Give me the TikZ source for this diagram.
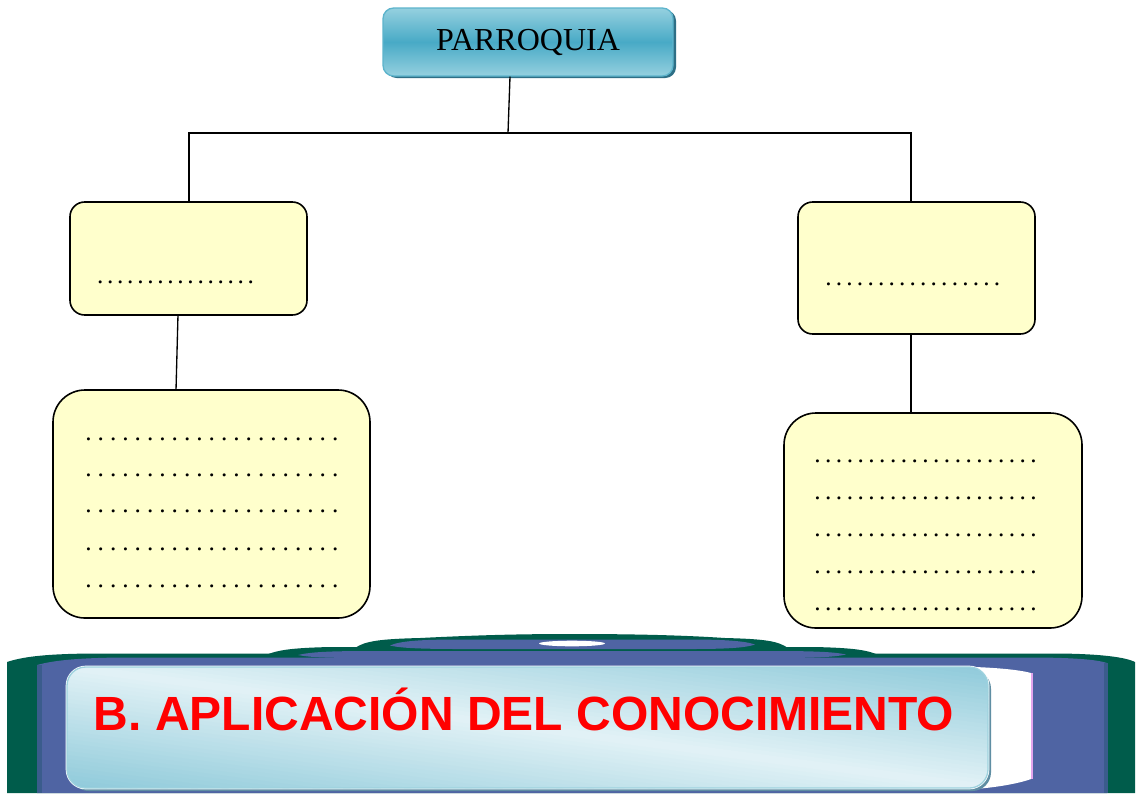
\documentclass[tikz,border=0pt]{standalone}
\usepackage{fontspec}
\setmainfont{Liberation Serif}
\setsansfont{Liberation Sans}
\definecolor{boxyellow}{HTML}{FFFFCC}
\definecolor{parlight}{HTML}{95D0DF}
\definecolor{parmid}{HTML}{48AAC6}
\definecolor{parborder}{HTML}{5DB4CC}
\definecolor{parshadow}{HTML}{2E6F86}
\definecolor{bgreen}{HTML}{005C4B}
\definecolor{bblue}{HTML}{4F64A3}
\definecolor{bslate}{HTML}{3A5C8C}
\definecolor{lbdark}{HTML}{8FCADA}
\definecolor{lblight}{HTML}{E2F2F6}
\definecolor{lbshadow}{HTML}{5F8EA3}
\definecolor{lbborder}{HTML}{9DD2DE}
\definecolor{pinkedge}{HTML}{E2A4EC}
\newcommand{\dotrow}[2]{\foreach \k in {1,...,#1}{\makebox[#2][c]{.}}}
\tikzset{
  ybox/.style={draw=black, line width=1.2pt, fill=boxyellow, rounded corners=#1, inner sep=0pt},
  dots/.style={anchor=west, inner sep=0pt, font=\fontsize{19}{21}\selectfont},
  link/.style={draw=black, line width=1pt},
}
\begin{document}
\begin{tikzpicture}[x=0.75pt,y=-0.75pt]
\useasboundingbox (0,0) rectangle (1141,793);
\fill[white] (0,0) rectangle (1141,793);

% top box
\fill[parshadow, rounded corners=8pt] (386,10) rectangle (676,78);
\node[draw=parborder, line width=1pt, rounded corners=8pt, top color=parlight, bottom color=parlight, middle color=parmid,
      minimum width=217.5pt, minimum height=51pt, inner sep=0pt, font=\fontsize{24}{26}\selectfont] (par) at (528,42) {PARROQUIA};

% yellow boxes
\node[ybox=11pt, minimum width=177.75pt, minimum height=84.75pt] (ls) at (188.5,258.5) {};
\node[ybox=11pt, minimum width=177.75pt, minimum height=99pt] (rs) at (916.5,268) {};
\node[ybox=24pt, minimum width=237.75pt, minimum height=171pt] (lb) at (211.5,504) {};
\node[ybox=24pt, minimum width=223.5pt, minimum height=161.25pt] (rb) at (933,520.5) {};

% connectors
\coordinate (hub) at (508,133);
\coordinate (lcorner) at (189,133);
\coordinate (rcorner) at (911,133);
\draw[link] ([xshift=-13.5pt]par.south) -- (hub);
\draw[link] (lcorner |- ls.north) -- (lcorner) -- (rcorner) -- (rcorner |- rs.north);
\draw[link] ([xshift=-7.9pt]ls.south) -- ([xshift=-26.6pt]lb.north);
\draw[link] (rcorner |- rs.south) -- (rcorner |- rb.north);

% dotted lines
\node[dots] (lsd) at (95,282.7) {\dotrow{16}{7.53pt}};
\node[dots] (rsd) at (823,284) {\dotrow{17}{7.9pt}};
\foreach \y [count=\i] in {439.3,475.7,511.7,549,586.7}
  \node[dots] (lbd\i) at (82.1,\y) {\dotrow{21}{9.25pt}};
\foreach \y [count=\i] in {461,498.3,535.3,572.3,609.3}
  \node[dots] (rbd\i) at (811.9,\y) {\dotrow{21}{8.1pt}};

% bottom banner: green outline
\fill[bgreen] (7,793) -- (7,662) .. controls (25,656) and (50,654) .. (90,653.5) -- (1060,653.5)
   .. controls (1100,654) and (1125,657) .. (1135,662) -- (1135,793) -- cycle;
\fill[bgreen] (262,657) .. controls (275,650) and (290,648) .. (330,647) -- (815,647)
   .. controls (855,648) and (870,650) .. (882,657) -- cycle;
\fill[bgreen] (355,648) .. controls (365,641) and (380,639) .. (420,638) .. controls (480,635) and (520,634) .. (572,634)
   .. controls (630,634) and (680,635) .. (725,638) .. controls (765,639) and (778,641) .. (788,648) -- cycle;
% blue fills
\fill[bblue] (37,793) -- (37,665) .. controls (55,660) and (80,658) .. (120,657.5) -- (1040,657.5)
   .. controls (1080,658) and (1098,660) .. (1107,663) -- (1107,793) -- cycle;
\fill[bblue] (298,655) .. controls (310,652) and (330,651) .. (370,651) -- (775,651)
   .. controls (815,651) and (835,652) .. (846,654.5) .. controls (835,657) and (815,658) .. (775,658)
   -- (370,658) .. controls (330,658) and (310,657.5) .. (298,655) -- cycle;
\fill[bblue] (390,645.5) .. controls (400,641) and (420,639.5) .. (460,639.5) -- (690,639.5)
   .. controls (725,639.5) and (745,641) .. (755,644.5) .. controls (745,648) and (725,649) .. (690,649)
   -- (460,649) .. controls (420,649) and (400,648) .. (390,645.5) -- cycle;
\fill[white] (572,643.5) ellipse [x radius=33, y radius=2.8];
\fill[bslate] (37,665) rectangle (42,793);
\fill[bslate] (1104,663) rectangle (1108,793);
% white ribbon
\fill[white] (975,667) .. controls (1000,668) and (1020,670) .. (1031,673) -- (1031,779)
   .. controls (1020,783) and (1000,787) .. (975,789) -- cycle;
\draw[pinkedge, line width=2.2pt] (1032,673) -- (1032,779);
% light box
\fill[lbshadow, rounded corners=14pt] (70,670) rectangle (991,791);
\draw[white, line width=2pt, rounded corners=14pt] (67,667) rectangle (988,788);
\begin{scope}
  \clip[rounded corners=14pt] (67,667) rectangle (988,788);
  \foreach \t in {-128,-124,...,124}{
    \pgfmathsetmacro\mixv{min(100,abs(\t+2)/1.21)}
    \fill[lbdark!\mixv!lblight] (40,663.45+\t) -- (1000,789.6+\t) -- (1000,794.3+\t) -- (40,668.15+\t) -- cycle;
  }
\end{scope}
\draw[lbborder, line width=1pt, rounded corners=14pt] (67,667) rectangle (988,788);
\node[anchor=base, inner sep=0pt, text=red, font=\sffamily\bfseries\fontsize{36}{40}\selectfont] (title) at (524,730)
   {B. APLICACIÓN DEL CONOCIMIENTO};
\end{tikzpicture}
\end{document}
